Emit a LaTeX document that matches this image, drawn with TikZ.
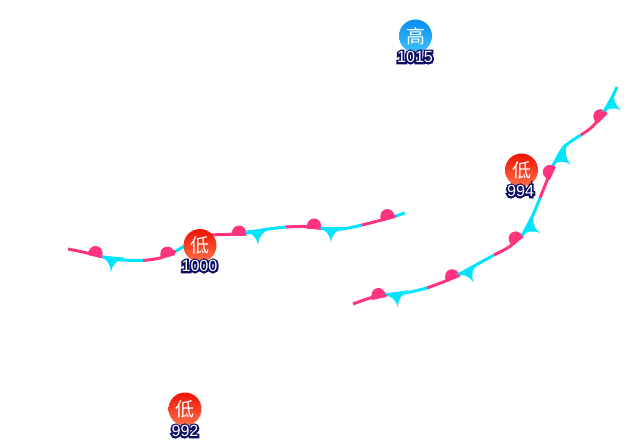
\documentclass[tikz,border=0pt]{standalone}
\usepackage{fontspec}
\setmainfont{Liberation Sans}
\newfontfamily\cjk{Noto Sans CJK SC}
\newfontfamily\halofont[FakeBold=22]{Liberation Sans}
\definecolor{warmpink}{HTML}{FF3380}
\definecolor{coldcyan}{HTML}{00E5FF}
\definecolor{labelnavy}{HTML}{0C0C66}
\definecolor{lowtop}{HTML}{F01204}
\definecolor{lowmid}{HTML}{FF2A10}
\definecolor{lowbottom}{HTML}{FF7048}
\definecolor{hightop}{HTML}{0A8CF0}
\definecolor{highbottom}{HTML}{3CC0FF}
\newcommand{\barblen}{14}
\newcommand{\halotext}[1]{\rlap{\halofont\color{labelnavy}#1}#1}
\tikzset{
	warmline/.style={draw=warmpink, line width=0.75mm},
	coldline/.style={draw=coldcyan, line width=0.75mm},
	lowcentre/.style={circle, minimum size=8.25mm, inner sep=0pt, top color=lowtop, middle color=lowmid, bottom color=lowbottom, text=white, font=\cjk\fontsize{13.5}{14}\selectfont},
	highcentre/.style={circle, minimum size=8.25mm, inner sep=0pt, top color=hightop, bottom color=highbottom, text=white, font=\cjk\fontsize{13.5}{14}\selectfont},
	pressure/.style={inner sep=0pt, text=white, font=\fontsize{11.5}{12}\selectfont},
	warmbump/.pic={\fill[warmpink] (-7,1) .. controls (-9.5,-13) and (9.5,-13) .. (7,1) -- cycle;},
	coldbarb/.pic={\fill[coldcyan] (-12,-1.5) .. controls (-5,2.5) and (-1.5,5) .. (0,\barblen) .. controls (1.5,5) and (5,2.5) .. (13,-1.5) -- cycle;},
}
\begin{document}
\begin{tikzpicture}[x=0.25mm, y=-0.25mm]
	\useasboundingbox (0,0) rectangle (640,440);

	% left front
	\draw[warmline] plot[smooth] coordinates {(68,249) (85,252.5) (103,257)};
	\draw[coldline] plot[smooth] coordinates {(103,257) (122,260) (143,260.5)};
	\draw[warmline] plot[smooth] coordinates {(143,260.5) (160,258) (176,251)};
	\draw[coldline] (176,251) -- (190,243);
	\draw[warmline] plot[smooth] coordinates {(205,235) (225,234.5) (246,233.5)};
	\draw[coldline] plot[smooth] coordinates {(246,233.5) (265,229.5) (286,227)};
	\draw[warmline] plot[smooth] coordinates {(286,227) (304,226.5) (321,228.5)};
	\draw[coldline] plot[smooth] coordinates {(321,228.5) (342,229) (362,225)};
	\draw[warmline] plot[smooth] coordinates {(362,225) (378,221) (396,216)};
	\draw[coldline] (396,216) -- (405,213);

	\pic[rotate=-12] at (95,255.5) {warmbump};
	\pic[rotate=15] at (168,256) {warmbump};
	\pic at (239,235) {warmbump};
	\pic[rotate=-2] at (314,228) {warmbump};
	\pic[rotate=15] at (388,218.5) {warmbump};

	\pic[rotate=-5] at (112,258) {coldbarb};
	\pic[rotate=5] at (257,231) {coldbarb};
	\pic at (331,228.5) {coldbarb};

	% right front
	\draw[warmline] plot[smooth] coordinates {(353,304) (370,298) (387,295)};
	\draw[coldline] plot[smooth] coordinates {(387,295) (408,292.5) (427,288)};
	\draw[warmline] plot[smooth] coordinates {(427,288) (443,282) (459,275)};
	\draw[coldline] plot[smooth] coordinates {(459,275) (476,265) (494,255)};
	\draw[warmline] plot[smooth] coordinates {(494,255) (509,247) (522,236)};
	\draw[coldline] plot[smooth] coordinates {(522,236) (532,217) (540,198)};
	\draw[warmline] plot[smooth] coordinates {(540,198) (546,183) (553,166)};
	\draw[coldline] plot[smooth] coordinates {(553,166) (564,147) (581,135)};
	\draw[warmline] plot[smooth] coordinates {(581,135) (592,127) (603,114)};
	\draw[coldline] plot[smooth] coordinates {(603,114) (610,102) (617,87)};

	\pic[rotate=13] at (379,297.5) {warmbump};
	\pic[rotate=22] at (453,278.5) {warmbump};
	\pic[rotate=33] at (517,240.5) {warmbump};
	\pic[rotate=65] at (552,173) {warmbump};
	\pic[rotate=45] at (602,118) {warmbump};

	\pic[rotate=8] at (396,293.5) {coldbarb};
	\pic[rotate=28] at (467,270) {coldbarb};
	\pic[rotate=60] at (528,226) {coldbarb};
	\pic[rotate=52] at (560,156) {coldbarb};
	\pic[rotate=60] at (609,103) {coldbarb};

	% pressure centres
	\node[highcentre] (high1015) at (415.5,36) {高};
	\node[pressure] (label1015) at (415,57) {\halotext{1015}};
	\node[lowcentre] (low1000) at (200,245.5) {低};
	\node[pressure] (label1000) at (199.5,266) {\halotext{1000}};
	\node[lowcentre] (low994) at (521.5,170) {低};
	\node[pressure] (label994) at (520.5,191) {\halotext{994}};
	\node[lowcentre] (low992) at (185,409) {低};
	\node[pressure] (label992) at (185,431) {\halotext{992}};
\end{tikzpicture}
\end{document}
